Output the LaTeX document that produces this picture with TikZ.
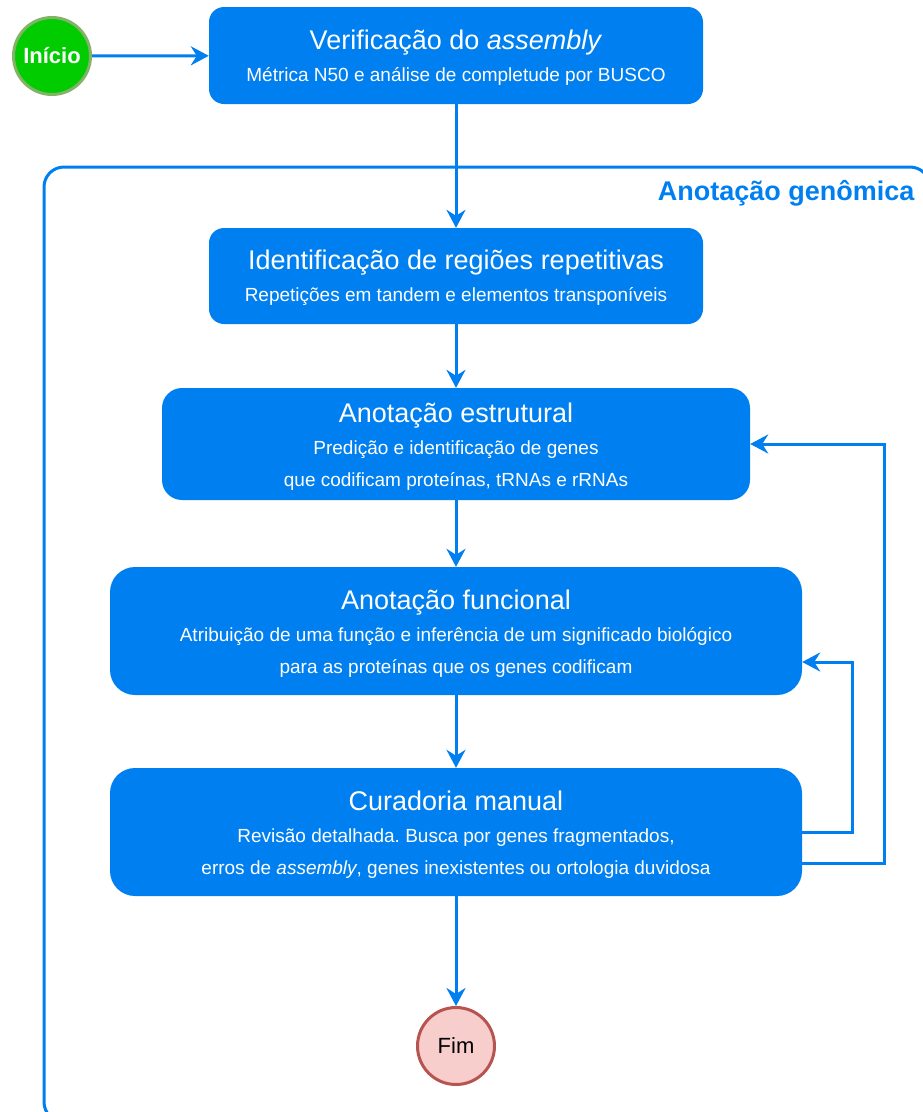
\documentclass[tikz,border=0pt]{standalone}
\usepackage{fontspec}
\setmainfont{Liberation Sans}
\usetikzlibrary{arrows.meta}

\definecolor{flowblue}{RGB}{0,127,240}
\definecolor{startfill}{RGB}{0,204,0}
\definecolor{startline}{RGB}{130,179,102}
\definecolor{endfill}{RGB}{248,206,204}
\definecolor{endline}{RGB}{184,84,80}

\tikzset{
  stage/.style={fill=flowblue, text=white, rounded corners=15pt, inner sep=0pt,
    align=center, font=\fontsize{19}{32}\selectfont\frenchspacing},
  flow/.style={draw=flowblue, line width=3pt,
    -{Stealth[length=18pt,width=19pt,inset=6pt]}},
  terminal/.style={circle, line width=3pt, minimum size=77pt, inner sep=0pt},
}
\newcommand{\stagetitle}[1]{{\fontsize{27}{32}\selectfont\rule{0pt}{24pt}#1}}

\begin{document}
\begin{tikzpicture}[x=1pt,y=-1pt]
\useasboundingbox (0,0) rectangle (923,1112);

% grupo da anotacao
\draw[flowblue, line width=3pt, rounded corners=20pt] (44,167) rectangle (930,1122);
\node[anchor=base east, text=flowblue, font=\fontsize{27}{32}\selectfont\bfseries]
  (grupo) at (918,200) {Anotação genômica};

\node[terminal, fill=startfill, draw=startline, text=white,
  font=\fontsize{22}{26}\selectfont\bfseries] (ini) at (52,56) {Início};

\node[stage, minimum width=494pt, minimum height=97pt] (ver) at (456,55.5)
  {\stagetitle{Verificação do \textit{assembly}}\\
   Métrica N50 e análise de completude por BUSCO};
\node[stage, minimum width=494pt, minimum height=96pt] (rep) at (456,276)
  {\stagetitle{Identificação de regiões repetitivas}\\
   Repetições em tandem e elementos transponíveis};
\node[stage, rounded corners=20pt, minimum width=588pt, minimum height=112pt] (est) at (456,444)
  {\stagetitle{Anotação estrutural}\\
   Predição e identificação de genes\\
   que codificam proteínas, tRNAs e rRNAs};
\node[stage, rounded corners=25pt, minimum width=692pt, minimum height=128pt] (fun) at (456,631)
  {\stagetitle{Anotação funcional}\\
   Atribuição de uma função e inferência de um significado biológico\\
   para as proteínas que os genes codificam};
\node[stage, rounded corners=25pt, minimum width=692pt, minimum height=128pt] (cur) at (456,832)
  {\stagetitle{Curadoria manual}\\
   Revisão detalhada. Busca por genes fragmentados,\\
   erros de \textit{assembly}, genes inexistentes ou ortologia duvidosa};

\node[terminal, fill=endfill, draw=endline, font=\fontsize{22}{26}\selectfont]
  (fim) at (456,1046) {Fim};

\draw[flow] (ini) -- (ver);
\draw[flow] (ver) -- (rep);
\draw[flow] (rep) -- (est);
\draw[flow] (est) -- (fun);
\draw[flow] (fun) -- (cur);
\draw[flow] (cur) -- (fim);

% retornos da curadoria
\draw[flow] (cur.east) -- ++(50,0) |- ([yshift=-31pt]fun.east);
\draw[flow] ([yshift=-31pt]cur.east) -- ++(82,0) |- (est.east);
\end{tikzpicture}
\end{document}
